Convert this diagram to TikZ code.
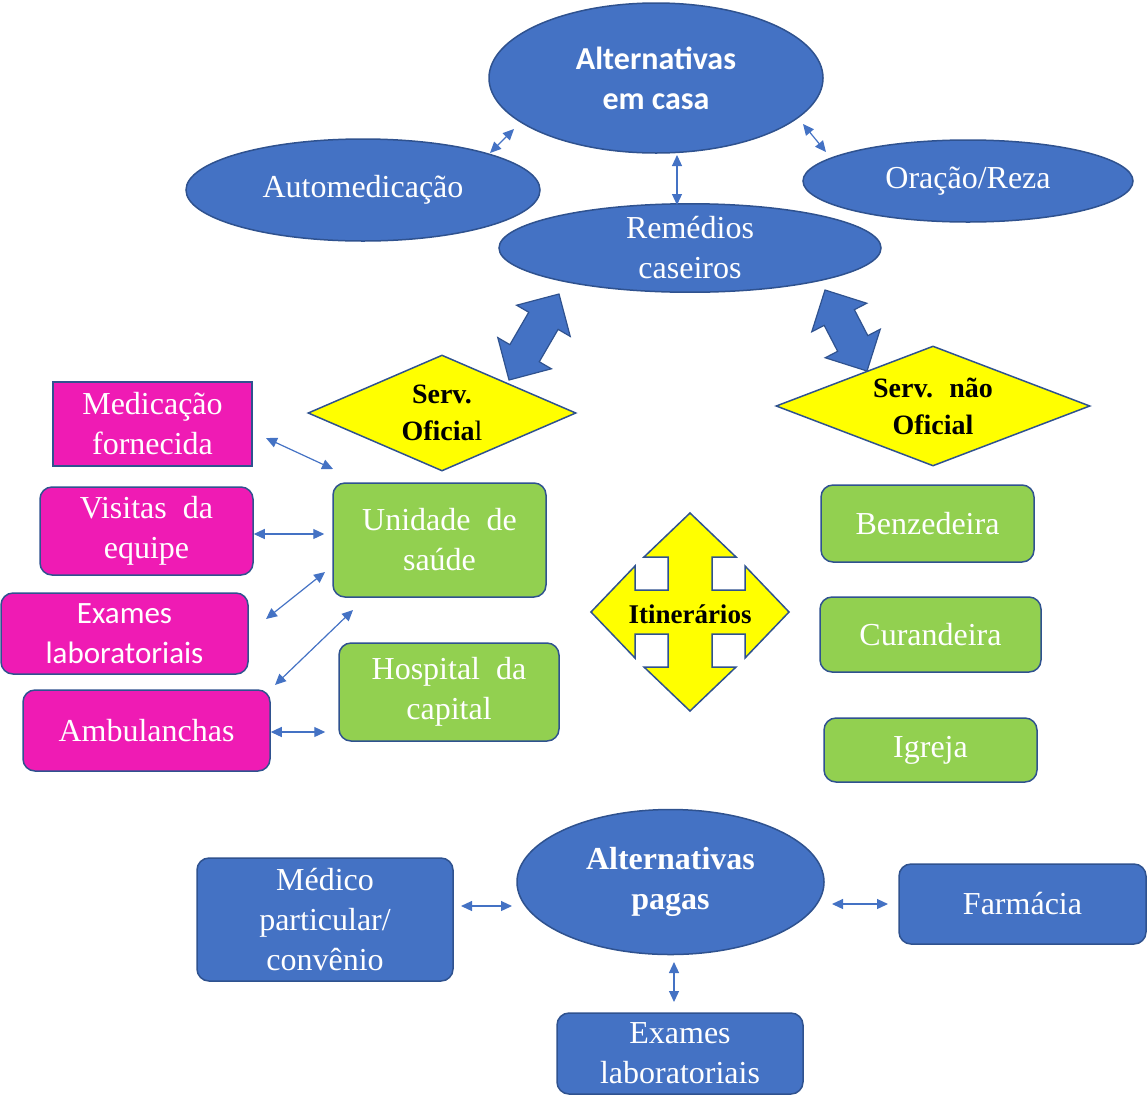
\documentclass[tikz,border=0pt]{standalone}
\usepackage{fontspec}
\setmainfont{Liberation Serif}
\newfontfamily\calibri{Carlito}
\usetikzlibrary{shapes.geometric,arrows.meta,calc}
\definecolor{bfill}{HTML}{4472C4}
\definecolor{bline}{HTML}{2F528F}
\definecolor{pinkf}{HTML}{EF1BB4}
\definecolor{greenf}{HTML}{92D050}
\definecolor{yell}{HTML}{FFFF00}
\newcommand\dblarrow[2]{%
  \path ($(#1)!31pt!(#2)$) coordinate (p1) ($(#2)!31pt!(#1)$) coordinate (p2);
  \filldraw[bigarrow] (#1) -- ($(p1)!31pt!90:(#2)$) -- ($(p1)!17pt!90:(#2)$)
    -- ($(p2)!17pt!-90:(#1)$) -- ($(p2)!31pt!-90:(#1)$) -- (#2)
    -- ($(p2)!31pt!90:(#1)$) -- ($(p2)!17pt!90:(#1)$)
    -- ($(p1)!17pt!-90:(#2)$) -- ($(p1)!31pt!-90:(#2)$) -- cycle;}
\begin{document}
\begin{tikzpicture}[x=1pt,y=-1pt,
  every node/.style={align=center, inner sep=0pt},
  txt/.style={font=\fontsize{32}{40}\selectfont},
  ell/.style={ellipse, fill=bfill, draw=bline, line width=1.5pt, text=white, txt},
  boxbase/.style={rectangle, rounded corners=12pt, draw=bline, line width=1.5pt, text=white, txt},
  pbox/.style={boxbase, fill=pinkf},
  gbox/.style={boxbase, fill=greenf},
  bbox/.style={boxbase, fill=bfill},
  dia/.style={diamond, aspect=2.3, fill=yell, draw=bline, line width=1.5pt, font=\bfseries\fontsize{28}{37}\selectfont},
  conn/.style={draw=bfill, line width=1.2pt, {Triangle[length=11pt,width=10pt]}-{Triangle[length=11pt,width=10pt]}},
  bigarrow/.style={fill=bfill, draw=bline, line width=1.2pt},
  itin/.style={fill=yell, draw=bline, line width=1.5pt}
]
\useasboundingbox (0,0) rectangle (1147,1117);

% top ellipses
\node[ell, minimum width=334pt, minimum height=150pt, font=\calibri\bfseries\fontsize{32}{40}\selectfont] (altcasa) at (656,78) {Alternativas\\em casa};
\node[ell, minimum width=354pt, minimum height=102pt] (automed) at (363,190) {Automedicação};
\node[ell, minimum width=330pt, minimum height=82pt] (oracao) at (968,181) {Oração/Reza};
\node[ell, minimum width=382pt, minimum height=84pt] (remedios) at (690,248) {Remédios\\caseiros};

% diamonds
\node[dia, minimum width=268pt, minimum height=116pt] (servof) at (442,413) {Serv.\\Oficia{\mdseries l}};
\node[dia, minimum width=314pt, minimum height=120pt] (servnof) at (933,406) {Serv.~ não\\Oficial};

% big arrows
\coordinate (bl1) at (559,294); \coordinate (bl2) at (509,380);
\coordinate (br1) at (825,290); \coordinate (br2) at (867,371);
\dblarrow{bl1}{bl2}
\dblarrow{br1}{br2}

% pink boxes
\node[pbox, sharp corners, minimum width=199pt, minimum height=84pt] (medic) at (152.5,424) {Medicação\\fornecida};
\node[pbox, minimum width=213pt, minimum height=88pt] (visitas) at (146.5,531) {Visitas~ da\\equipe};
\node[pbox, minimum width=247pt, minimum height=81pt, font=\calibri\fontsize{31}{40}\selectfont] (exames) at (124.5,633.5) {Exames\\laboratoriais};
\node[pbox, minimum width=247pt, minimum height=81pt] (ambul) at (146.5,730.5) {Ambulanchas};

% green boxes left
\node[gbox, minimum width=213pt, minimum height=114pt] (unidade) at (439.5,540) {Unidade~ de\\saúde};
\node[gbox, minimum width=220pt, minimum height=98pt] (hospital) at (449,692) {Hospital~ da\\capital};

% itinerarios
\begin{scope}[shift={(690,612)}]
\draw[itin] (0,-99) -- (46,-55) -- (22,-55) -- (22,-22) -- (55,-22) -- (55,-46) -- (99,0)
  -- (55,46) -- (55,22) -- (22,22) -- (22,55) -- (46,55) -- (0,99) -- (-46,55) -- (-22,55)
  -- (-22,22) -- (-55,22) -- (-55,46) -- (-99,0) -- (-55,-46) -- (-55,-22) -- (-22,-22)
  -- (-22,-55) -- (-46,-55) -- cycle;
\end{scope}
\node[font=\bfseries\fontsize{27}{30}\selectfont] (itinerarios) at (690,614) {Itinerários};

% green boxes right
\node[gbox, minimum width=213pt, minimum height=77pt] (benz) at (927.5,523.5) {Benzedeira};
\node[gbox, minimum width=221pt, minimum height=75pt] (curand) at (930.5,634.5) {Curandeira};
\node[gbox, minimum width=213pt, minimum height=64pt] (igreja) at (930.5,750) {Igreja};

% bottom
\node[ell, minimum width=307pt, minimum height=145pt, font=\bfseries\fontsize{32}{40}\selectfont] (altpagas) at (670.5,882) {Alternativas\\pagas};
\node[bbox, minimum width=256pt, minimum height=123pt] (medico) at (325,919.5) {Médico\\particular/\\convênio};
\node[bbox, minimum width=247pt, minimum height=80pt] (farmacia) at (1022.5,904) {Farmácia};
\node[bbox, minimum width=246pt, minimum height=81pt] (exames2) at (680,1053.5) {Exames\\laboratoriais};

% small connectors
\coordinate (c1a) at (490,153); \coordinate (c1b) at (514,129);
\coordinate (c2a) at (677,155); \coordinate (c2b) at (677,205);
\coordinate (c3a) at (803,124); \coordinate (c3b) at (826,152);
\coordinate (c4a) at (266,438); \coordinate (c4b) at (333,469);
\coordinate (c6a) at (266,619); \coordinate (c6b) at (325,572);
\coordinate (c7a) at (275,685); \coordinate (c7b) at (353,610);
\coordinate (c9a) at (461,906); \coordinate (c9b) at (512,906);
\coordinate (c10a) at (832,904); \coordinate (c10b) at (888,904);
\coordinate (c11a) at (674,962); \coordinate (c11b) at (674,1002);
\draw[conn] (c1a) -- (c1b);
\draw[conn] (c2a) -- (c2b);
\draw[conn] (c3a) -- (c3b);
\draw[conn] (c4a) -- (c4b);
\draw[conn, shorten >=8pt] (visitas.east |- 0,534) -- (unidade.west |- 0,534);
\draw[conn] (c6a) -- (c6b);
\draw[conn] (c7a) -- (c7b);
\draw[conn, shorten >=13pt] (ambul.east |- 0,732) -- (hospital.west |- 0,732);
\draw[conn] (c9a) -- (c9b);
\draw[conn] (c10a) -- (c10b);
\draw[conn] (c11a) -- (c11b);
\end{tikzpicture}
\end{document}
